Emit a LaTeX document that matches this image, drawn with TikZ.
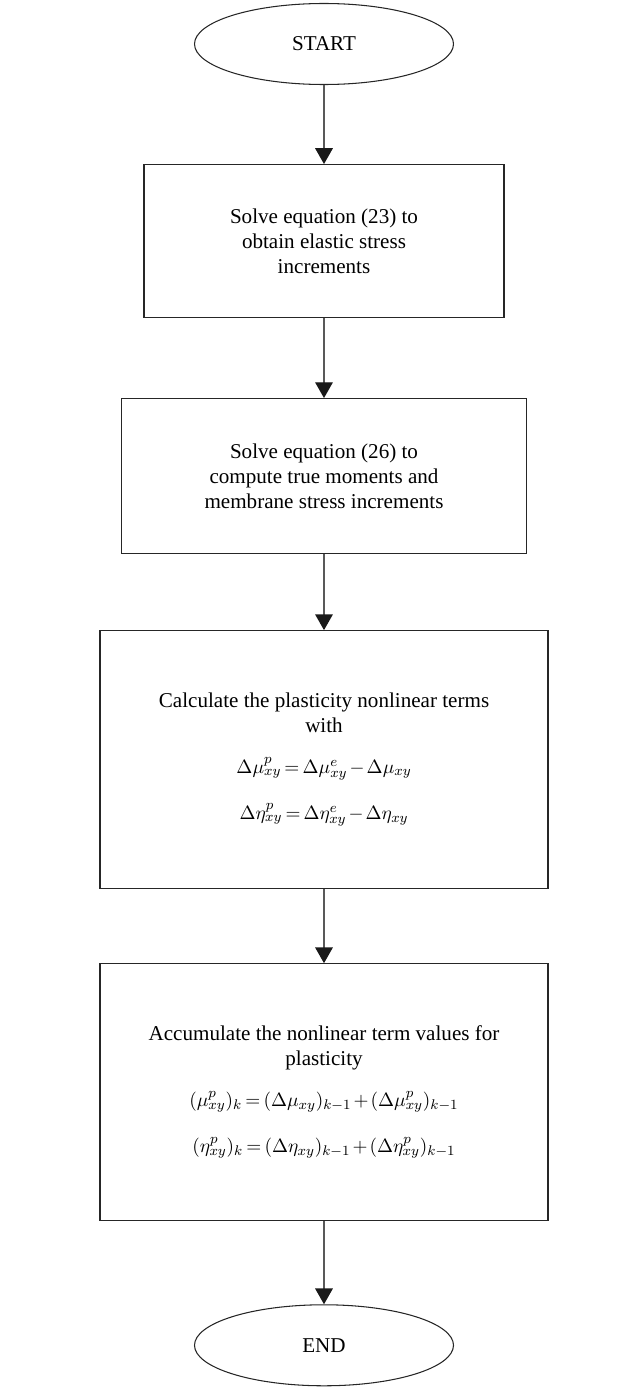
\documentclass[tikz,border=0pt]{standalone}
\usepackage{amsmath}
\usepackage{fontspec}
\setmainfont{Liberation Serif}
\usepackage{tikz}
\usetikzlibrary{shapes,arrows.meta,positioning}
\tikzset{
      terminal/.style = {ellipse, draw=black!85, line width=0.6pt, minimum width=5.18cm, minimum height=1.62cm, font=\fontsize{12}{14}\selectfont},
      process/.style = {rectangle, draw=black!85, line width=0.6pt, align=center, font=\fontsize{12}{14.2}\selectfont},
      flowedge/.style = {draw=black!65, line width=0.8pt, -{Triangle[width=10pt,length=9pt,black!90]}},
    }
\newcommand{\eqsize}{\fontsize{11}{13}\selectfont\thickmuskip=3mu\relax\medmuskip=2mu\relax}

\begin{document}
\begin{tikzpicture}[auto,node distance=1.56cm]
          \useasboundingbox (0,0) rectangle (12.82,-27.8);
          \node [terminal] (start) at (6.48,-0.88) {START};
          \node [process, below=1.58cm of start, minimum width=7.2cm, minimum height=3.06cm] (1)
                {Solve equation (23) to\\ obtain elastic stress\\ increments};
          \node [process, below=1.6cm of 1, minimum width=8.1cm, minimum height=3.1cm] (2)
                {Solve equation (26) to\\ compute true moments and\\ membrane stress increments};
          \node [process, below=1.52cm of 2, minimum width=8.96cm, minimum height=5.16cm] (3)
                {Calculate the plasticity nonlinear terms\\ with\\[9pt]
                 {\eqsize$\Delta\mu^{p}_{xy}=\Delta\mu^{e}_{xy}-\Delta\mu_{xy}$}\\[12pt]
                 {\eqsize$\Delta\eta^{p}_{xy}=\Delta\eta^{e}_{xy}-\Delta\eta_{xy}$}};
          \node [process, below=1.48cm of 3, minimum width=8.96cm, minimum height=5.14cm] (4)
                {Accumulate the nonlinear term values for\\ plasticity\\[9pt]
                 {\eqsize$(\mu^{p}_{xy})_{k}=(\Delta\mu_{xy})_{k-1}+(\Delta\mu^{p}_{xy})_{k-1}$}\\[12pt]
                 {\eqsize$(\eta^{p}_{xy})_{k}=(\Delta\eta_{xy})_{k-1}+(\Delta\eta^{p}_{xy})_{k-1}$}};
          \node [terminal, below=1.66cm of 4] (stop) {END};

          \path (start) edge[flowedge] (1);
          \path (1) edge[flowedge] (2);
          \path (2) edge[flowedge] (3);
          \path (3) edge[flowedge] (4);
          \path (4) edge[flowedge] (stop);
          \end{tikzpicture}
\end{document}
